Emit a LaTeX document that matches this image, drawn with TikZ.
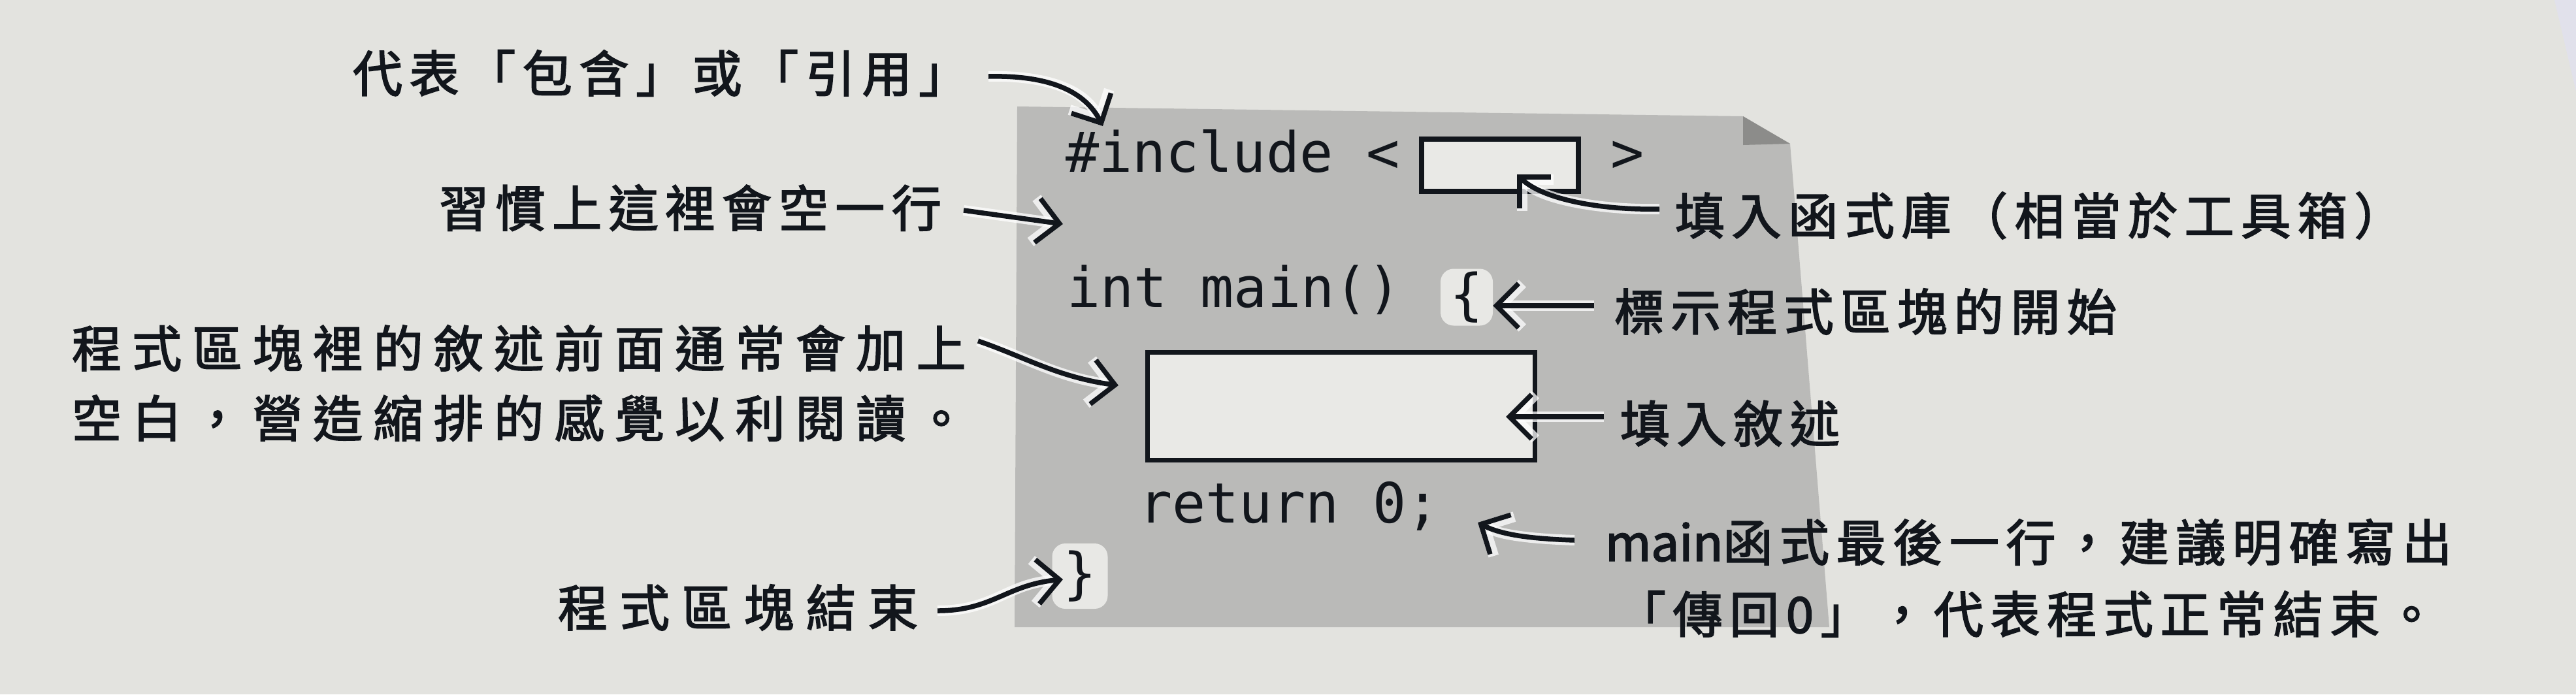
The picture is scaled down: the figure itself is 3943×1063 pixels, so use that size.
\documentclass[tikz,border=0pt]{standalone}
\usepackage{fontspec}
\setmonofont{DejaVu Sans Mono}
\newfontfamily\cjk[LetterSpace=14,FakeBold=2.4]{Noto Sans CJK TC}
\newfontfamily\cjkwide[LetterSpace=21.5,FakeBold=2.4]{Noto Sans CJK TC}
\newfontfamily\cjkwider[LetterSpace=25,FakeBold=2.4]{Noto Sans CJK TC}
\newfontfamily\cjkplain[FakeBold=2.4]{Noto Sans CJK TC}
\usetikzlibrary{arrows.meta}
\definecolor{bgc}{RGB}{227,227,223}
\definecolor{panelc}{RGB}{186,186,184}
\definecolor{foldc}{RGB}{140,140,138}
\definecolor{boxc}{RGB}{233,233,230}
\definecolor{hlc}{RGB}{232,232,229}
\definecolor{inkc}{RGB}{18,22,28}
\begin{document}
\begin{tikzpicture}[x=0.1pt,y=-0.1pt,
  code/.style={font=\ttfamily\fontsize{8.5pt}{10pt}\selectfont, inner sep=0pt, text=inkc},
  note/.style={font=\cjk\fontsize{7.6pt}{10.8pt}\selectfont, inner sep=0pt, anchor=west, text=inkc},
  widenote/.style={note, font=\cjkwide\fontsize{7.6pt}{10.8pt}\selectfont},
  widernote/.style={note, font=\cjkwider\fontsize{7.6pt}{10.8pt}\selectfont},
  slot/.style={draw=inkc, fill=boxc, line width=0.75pt, inner sep=0pt},
  brace/.style={code, fill=hlc, rounded corners=2pt, inner sep=0pt},
  arr/.style={draw=inkc, line width=0.75pt, -{Straight Barb[length=3.4pt,width=6.8pt]},
    preaction={draw=white, line width=1.6pt, opacity=0.75}}]
\useasboundingbox (0,0) rectangle (3943,1063);
\fill[bgc] (0,0) rectangle (3943,1063);
\fill[gray!40!blue!15, opacity=0.5] (3910,0) -- (3943,0) -- (3943,140) -- cycle;
% panel
\fill[panelc] (1557,163) -- (2668,178) -- (2740,220) -- (2800,960) -- (1553,960) -- cycle;
\fill[foldc] (2668,178) -- (2668,222) -- (2740,220) -- cycle;
% code
\node[code, anchor=base west] (inc) at (1629,263) {\#include <};
\node[slot, minimum width=24pt, minimum height=8pt] (lib) at (2296,253) {};
\node[code, anchor=base west] (gt) at (2463,263) {>};
\node[code, anchor=base west] (mainl) at (1631,470) {int main()};
\node[brace, minimum width=8pt, minimum height=8.7pt] (ob) at (2245,455) {\{};
\node[slot, minimum width=59.3pt, minimum height=16.5pt] (stmt) at (2053,622) {};
\node[code, anchor=base west] (ret) at (1741,800) {return 0;};
\node[brace, minimum width=8.5pt, minimum height=10pt] (cb) at (1653,882) {\}};
% targets
\coordinate (tA) at (1688,193);
\coordinate (tB) at (1627,343);
\coordinate (tC) at (1712,590);
\coordinate (tD) at (1627,887);
\coordinate (tE) at (2322,267);
\coordinate (tF) at (2285,468);
\coordinate (tG) at (2305,638);
\coordinate (tH) at (2262,800);
% notes
\node[note] (nA) at (538,112) {代表「包含」或「引用」};
\node[note] (nB) at (670,318) {習慣上這裡會空一行};
\node[widenote] (nC1) at (108,533) {程式區塊裡的敘述前面通常會加上};
\node[widenote] (nC2) at (108,640) {空白，營造縮排的感覺以利閱讀。};
\node[widernote] (nD) at (852,930) {程式區塊結束};
\node[note] (nE) at (2562,330) {填入函式庫（相當於工具箱）};
\node[note] (nF) at (2469,477) {標示程式區塊的開始};
\node[note] (nG) at (2478,648) {填入敘述};
\node[note] (nH1) at (2455,830) {{\cjkplain main}函式最後一行，建議明確寫出};
\node[note] (nH2) at (2472,940) {「傳回0」，代表程式正常結束。};
% arrow starts
\coordinate (sA) at (1513,117);
\coordinate (sB) at (1475,322);
\coordinate (sC) at (1497,522);
\coordinate (sD) at (1435,935);
\coordinate (sE) at (2540,320);
\coordinate (sF) at (2440,468);
\coordinate (sG) at (2455,638);
\coordinate (sH) at (2410,827);
% arrows
\draw[arr] (sA) .. controls +(90,-2) and +(-28,-55) .. (tA);
\draw[arr] (sB) -- (tB);
\draw[arr] (sC) .. controls +(68,23) and +(-92,-12) .. (tC);
\draw[arr] (sD) .. controls +(85,0) and +(-87,8) .. (tD);
\draw[arr] (sE) .. controls +(-90,2) and +(38,38) .. (tE);
\draw[arr] (sF) -- (tF);
\draw[arr] (sG) -- (tG);
\draw[arr] (sH) .. controls +(-60,-2) and +(38,20) .. (tH);
\end{tikzpicture}
\end{document}
